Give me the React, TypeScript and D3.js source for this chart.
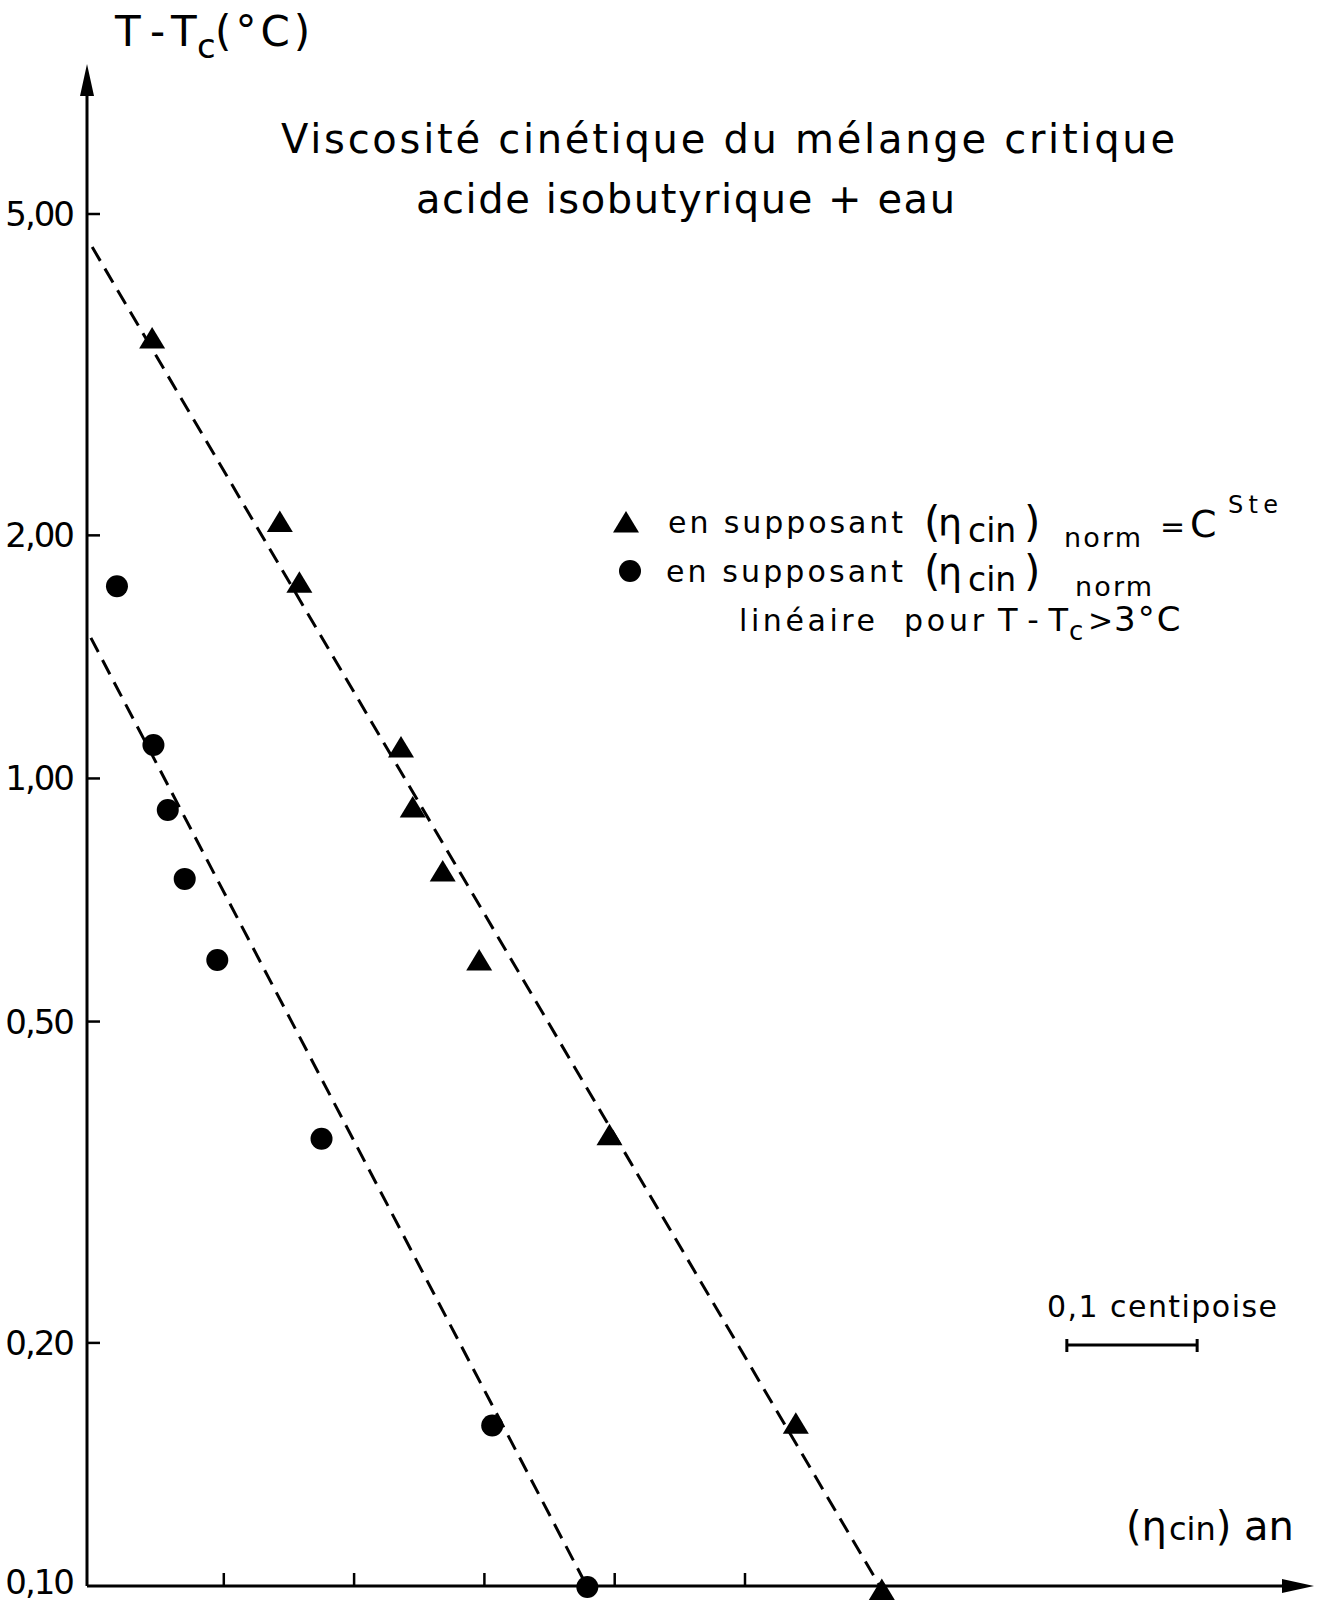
import React from "react";
import * as d3 from "d3";

// ---- data (x in centipoise from the axis origin, y = T - Tc in °C) ----
const triX = [0.045, 0.143, 0.158, 0.236, 0.245, 0.268, 0.296, 0.396, 0.539, 0.605];
const triY = [3.51, 2.08, 1.75, 1.094, 0.922, 0.768, 0.596, 0.362, 0.159, 0.099];
const cirX = [0.018, 0.046, 0.057, 0.070, 0.095, 0.175, 0.306, 0.379];
const cirY = [1.73, 1.10, 0.914, 0.751, 0.596, 0.358, 0.158, 0.0997];
const fitTriX = [-0.001, 0.605];
const fitTriY = [4.55, 0.099];
const fitCirX = [-0.002, 0.379];
const fitCirY = [1.493, 0.0997];
const yTicks = [5, 2, 1, 0.5, 0.2, 0.1];
const yTickLabels = ["5,00", "2,00", "1,00", "0,50", "0,20", "0,10"];
const xTicks = [0.1, 0.2, 0.3, 0.4, 0.5];
const scaleBar = [0.747, 0.847];

const W = 1320;
const H = 1604;
const FONT = "'DejaVu Sans', sans-serif";

export default function App() {
  const x = d3.scaleLinear().domain([0, 0.5]).range([93.5, 745]);
  const y = d3.scaleLog().domain([0.1, 5]).range([1586, 214]);
  const axisX = 87;
  const axisY = y(0.1);
  const line = d3
    .line<[number, number]>()
    .x((d) => x(d[0]))
    .y((d) => y(d[1]));
  const fitTri = line(fitTriX.map((v, i) => [v, fitTriY[i]]) as [number, number][]);
  const fitCir = line(fitCirX.map((v, i) => [v, fitCirY[i]]) as [number, number][]);
  const tri = (cx: number, cy: number) =>
    `M${cx},${cy - 11}L${cx + 13},${cy + 10.5}L${cx - 13},${cy + 10.5}Z`;

  return (
    <svg
      width={W}
      height={H}
      viewBox={`0 0 ${W} ${H}`}
      style={{ position: "absolute", left: 0, top: 0, background: "#fff" }}
      fontFamily={FONT}
    >
      <rect x={0} y={0} width={W} height={H} fill="#fff" />

      {/* axes */}
      <line x1={axisX} y1={axisY} x2={axisX} y2={90} stroke="#000" strokeWidth={3} />
      <path d={`M${axisX},64L${axisX + 7},96L${axisX - 7},96Z`} fill="#000" />
      <line x1={axisX} y1={axisY} x2={1285} y2={axisY} stroke="#000" strokeWidth={3} />
      <path d={`M1314,${axisY}L1282,${axisY - 7}L1282,${axisY + 7}Z`} fill="#000" />

      {yTicks.map((t, i) => (
        <g key={"yt" + i}>
          {t !== 0.1 && (
            <line x1={axisX} x2={axisX + 13} y1={y(t)} y2={y(t)} stroke="#000" strokeWidth={2.5} />
          )}
          <text x={73} y={t === 0.1 ? y(t) + 8 : y(t) + 12} fontSize={34} textAnchor="end" letterSpacing={-2}>
            {yTickLabels[i]}
          </text>
        </g>
      ))}
      {xTicks.map((t, i) => (
        <line key={"xt" + i} x1={x(t)} x2={x(t)} y1={axisY} y2={axisY - 13} stroke="#000" strokeWidth={2.5} />
      ))}

      {/* axis titles */}
      <text y={46} fontSize={42}>
        <tspan x={115}>T</tspan>
        <tspan x={150}>-</tspan>
        <tspan x={171}>T</tspan>
        <tspan x={197} fontSize={34} dy={12}>c</tspan>
        <tspan x={215} dy={-12} letterSpacing={4}>(°C)</tspan>
      </text>
      <text x={1126} y={1540} fontSize={40}>
        (<tspan fontSize={40}>η</tspan>
        <tspan fontSize={32} dx={2}>cin</tspan>) an
      </text>

      {/* title */}
      <text x={281} y={153} fontSize={40} textLength={894} lengthAdjust="spacing">
        Viscosité cinétique du mélange critique
      </text>
      <text x={416} y={213} fontSize={40} textLength={539} lengthAdjust="spacing">
        acide isobutyrique + eau
      </text>

      {/* fit lines */}
      <path d={fitTri || ""} fill="none" stroke="#000" strokeWidth={3} strokeDasharray="16 9" />
      <path d={fitCir || ""} fill="none" stroke="#000" strokeWidth={3} strokeDasharray="16 9" />

      {/* markers */}
      {triX.map((v, i) => (
        <path key={"t" + i} d={tri(x(v), y(triY[i]))} fill="#000" />
      ))}
      {cirX.map((v, i) => (
        <circle key={"c" + i} cx={x(v)} cy={y(cirY[i])} r={11} fill="#000" />
      ))}

      {/* legend */}
      <path d={tri(626, 522)} fill="#000" />
      <text x={668} y={533} fontSize={30} textLength={235} lengthAdjust="spacing">en supposant</text>
      <text x={924} y={537} fontSize={42}>(</text>
      <text x={938} y={536} fontSize={38}>η</text>
      <text x={968} y={542} fontSize={33}>cin</text>
      <text x={1024} y={537} fontSize={42}>)</text>
      <text x={1064} y={547} fontSize={27} textLength={77} lengthAdjust="spacing">norm</text>
      <text x={1160} y={537} fontSize={30}>=</text>
      <text x={1190} y={537} fontSize={38}>C</text>
      <text x={1228} y={513} fontSize={24} textLength={50} lengthAdjust="spacing">Ste</text>

      <circle cx={630} cy={571} r={11} fill="#000" />
      <text x={666} y={582} fontSize={30} textLength={237} lengthAdjust="spacing">en supposant</text>
      <text x={924} y={586} fontSize={42}>(</text>
      <text x={938} y={585} fontSize={38}>η</text>
      <text x={968} y={591} fontSize={33}>cin</text>
      <text x={1024} y={586} fontSize={42}>)</text>
      <text x={1075} y={596} fontSize={27} textLength={77} lengthAdjust="spacing">norm</text>

      <text y={631} fontSize={30}>
        <tspan x={739} textLength={136} lengthAdjust="spacing">linéaire</tspan>
        <tspan x={904} textLength={80} lengthAdjust="spacing">pour</tspan>
        <tspan x={998} fontSize={32} textLength={70} lengthAdjust="spacing">T-T</tspan>
      </text>
      <text x={1069} y={640} fontSize={26}>c</text>
      <text x={1088} y={631} fontSize={30}>&gt;</text>
      <text x={1114} y={631} fontSize={34} letterSpacing={2}>3°C</text>

      {/* scale bar */}
      <text x={1047} y={1317} fontSize={30} textLength={230} lengthAdjust="spacing">0,1 centipoise</text>
      <line x1={x(scaleBar[0])} x2={x(scaleBar[1])} y1={1345} y2={1345} stroke="#000" strokeWidth={3} />
      <line x1={x(scaleBar[0])} x2={x(scaleBar[0])} y1={1339} y2={1352} stroke="#000" strokeWidth={3} />
      <line x1={x(scaleBar[1])} x2={x(scaleBar[1])} y1={1339} y2={1352} stroke="#000" strokeWidth={3} />
    </svg>
  );
}
